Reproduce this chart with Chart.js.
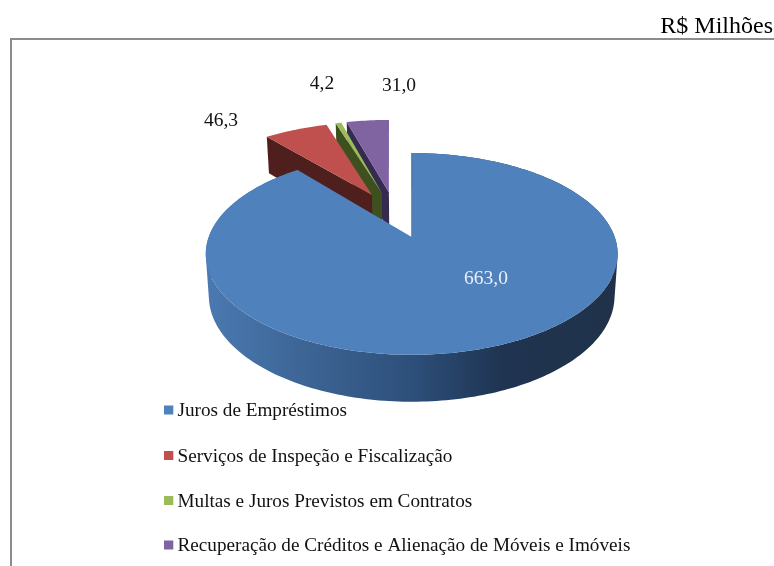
<!DOCTYPE html>
<html lang="pt-BR">
<head>
<meta charset="utf-8">
<title>Receitas em R$ Milhões</title>
<style>html,body{margin:0;padding:0;background:#fff;overflow:hidden}canvas{display:block}</style>
<script src="https://cdn.jsdelivr.net/npm/chart.js@4"></script>
</head>
<body>
<canvas id="c" width="774" height="566"></canvas>
<script>
const categories = ['Juros de Empréstimos','Serviços de Inspeção e Fiscalização','Multas e Juros Previstos em Contratos','Recuperação de Créditos e Alienação de Móveis e Imóveis'];
const values = [663.0, 46.3, 4.2, 31.0];
const unitLabel = 'R$ Milhões';
const topColors = ['#4F81BD','#C0504D','#9BBB59','#8064A2'];
const wallColors = [null,'#4F1F1D','#3F5020','#352A50'];

// layout / style constants (3D projection of the pie disc)
const SERIF = '"Liberation Serif","Times New Roman",serif';
const explodeDist = [0, 0.514, 0.514, 0.514];
const explodeDeg = [0, 26.2, 19.6, 15.8];
const apexShift = [0, 3, 2.5, 3.4];
const labelPos = [[486,279],[221,121],[322,83.5],[399,85.5]];
const legendY = [410,455.5,500.5,545];
const P = {cx:411.7, cy:237, A:203, B:98, p:0.168, D:41.3, sy:1.048, sx:0.985};

function project(u,v,bottom){
  const w = 1 + P.p*v;
  const x = P.cx + P.A*u/w*(bottom?P.sx:1);
  const y = P.cy - P.B*v/w*(bottom?P.sy:1) + (bottom?P.D:0);
  return [x,y];
}
function sliceOutline(el,i){
  const a0 = el.startAngle + Math.PI/2, a1 = el.endAngle + Math.PI/2;
  const dir = explodeDeg[i]*Math.PI/180;
  const ou = -explodeDist[i]*Math.sin(dir), ov = explodeDist[i]*Math.cos(dir);
  const pts = [[ou,ov]];
  const n = Math.max(4, Math.ceil((a1-a0)/0.02));
  for(let k=0;k<=n;k++){
    const t = a0+(a1-a0)*k/n;
    pts.push([ou+Math.sin(t), ov+Math.cos(t)]);
  }
  return pts;
}
function tracePoly(ctx,pts){
  ctx.beginPath();
  pts.forEach((p,i)=> i?ctx.lineTo(p[0],p[1]):ctx.moveTo(p[0],p[1]));
  ctx.closePath();
}
// add a quad to the current path, always with the same winding so overlaps never cancel
function addQuad(ctx,q){
  let area = 0;
  q.forEach((p,i)=>{const n=q[(i+1)%4]; area += p[0]*n[1]-n[0]*p[1];});
  const o = area<0 ? q.slice().reverse() : q;
  o.forEach((p,i)=> i?ctx.lineTo(p[0],p[1]):ctx.moveTo(p[0],p[1]));
  ctx.closePath();
}
function drawSlice(ctx,el,i){
  const disc = sliceOutline(el,i);
  const top = disc.map(d=>project(d[0],d[1],false));
  const bot = disc.map(d=>project(d[0],d[1],true));
  top[0][0] += apexShift[i]; bot[0][0] += apexShift[i];
  let wall = wallColors[i];
  ctx.beginPath();
  if(i===0){
    const g = ctx.createLinearGradient(207,0,618,0);
    g.addColorStop(0,'#4A79B1');
    g.addColorStop(0.25,'#3C6494');
    g.addColorStop(0.5,'#2D4F7A');
    g.addColorStop(0.72,'#1F3451');
    g.addColorStop(1,'#1F3249');
    wall = g;
    // curved outer wall: only the large slice shows it
    for(let k=1;k<top.length-1;k++) addQuad(ctx,[top[k],top[k+1],bot[k+1],bot[k]]);
  }
  ctx.fillStyle = wall;
  // the cut face at the start of the slice is the one facing the viewer
  addQuad(ctx,[top[0],top[1],bot[1],bot[0]]);
  ctx.fill();
  ctx.fillStyle = topColors[i];
  tracePoly(ctx,top);
  ctx.fill();
  if(i===0){
    ctx.strokeStyle = '#5b6f88'; ctx.lineWidth = 0.8;
    ctx.beginPath(); ctx.moveTo(top[0][0],top[0][1]); ctx.lineTo(top[1][0],top[1][1]); ctx.stroke();
  }
}
const pie3d = {
  id:'pie3d',
  beforeDatasetsDraw(chart){
    const ctx = chart.ctx, arcs = chart.getDatasetMeta(0).data;
    ctx.save();
    [3,2,1,0].forEach(i=>drawSlice(ctx,arcs[i],i));
    ctx.restore();
    return false;
  },
  afterDraw(chart){
    const ctx = chart.ctx;
    ctx.save();
    // frame
    ctx.strokeStyle='#8c8c8c'; ctx.lineWidth=2;
    ctx.beginPath(); ctx.moveTo(11,566); ctx.lineTo(11,39); ctx.lineTo(774,39); ctx.stroke();
    // unit
    ctx.fillStyle='#000'; ctx.textBaseline='alphabetic';
    ctx.textAlign='right'; ctx.font='24px '+SERIF;
    ctx.fillText(unitLabel,773,33);
    // value labels
    ctx.textAlign='center'; ctx.textBaseline='middle'; ctx.font='19.5px '+SERIF;
    values.forEach((v,i)=>{
      ctx.fillStyle = i===0 ? '#EAF0F8' : '#111';
      ctx.fillText(v.toFixed(1).replace('.',','),labelPos[i][0],labelPos[i][1]);
    });
    // legend
    ctx.textAlign='left'; ctx.font='19.2px '+SERIF;
    categories.forEach((c,i)=>{
      ctx.fillStyle=topColors[i];
      ctx.fillRect(164,legendY[i]-4.5,9.3,9);
      ctx.fillStyle='#111';
      ctx.fillText(c,177.5,legendY[i]+1);
    });
    ctx.restore();
  }
};
new Chart(document.getElementById('c'),{
  type:'pie',
  data:{labels:categories,datasets:[{data:values,backgroundColor:topColors,borderWidth:0}]},
  options:{responsive:false,animation:false,rotation:0,
    plugins:{legend:{display:false},tooltip:{enabled:false},title:{display:false}}},
  plugins:[pie3d]
});
</script>
</body>
</html>
